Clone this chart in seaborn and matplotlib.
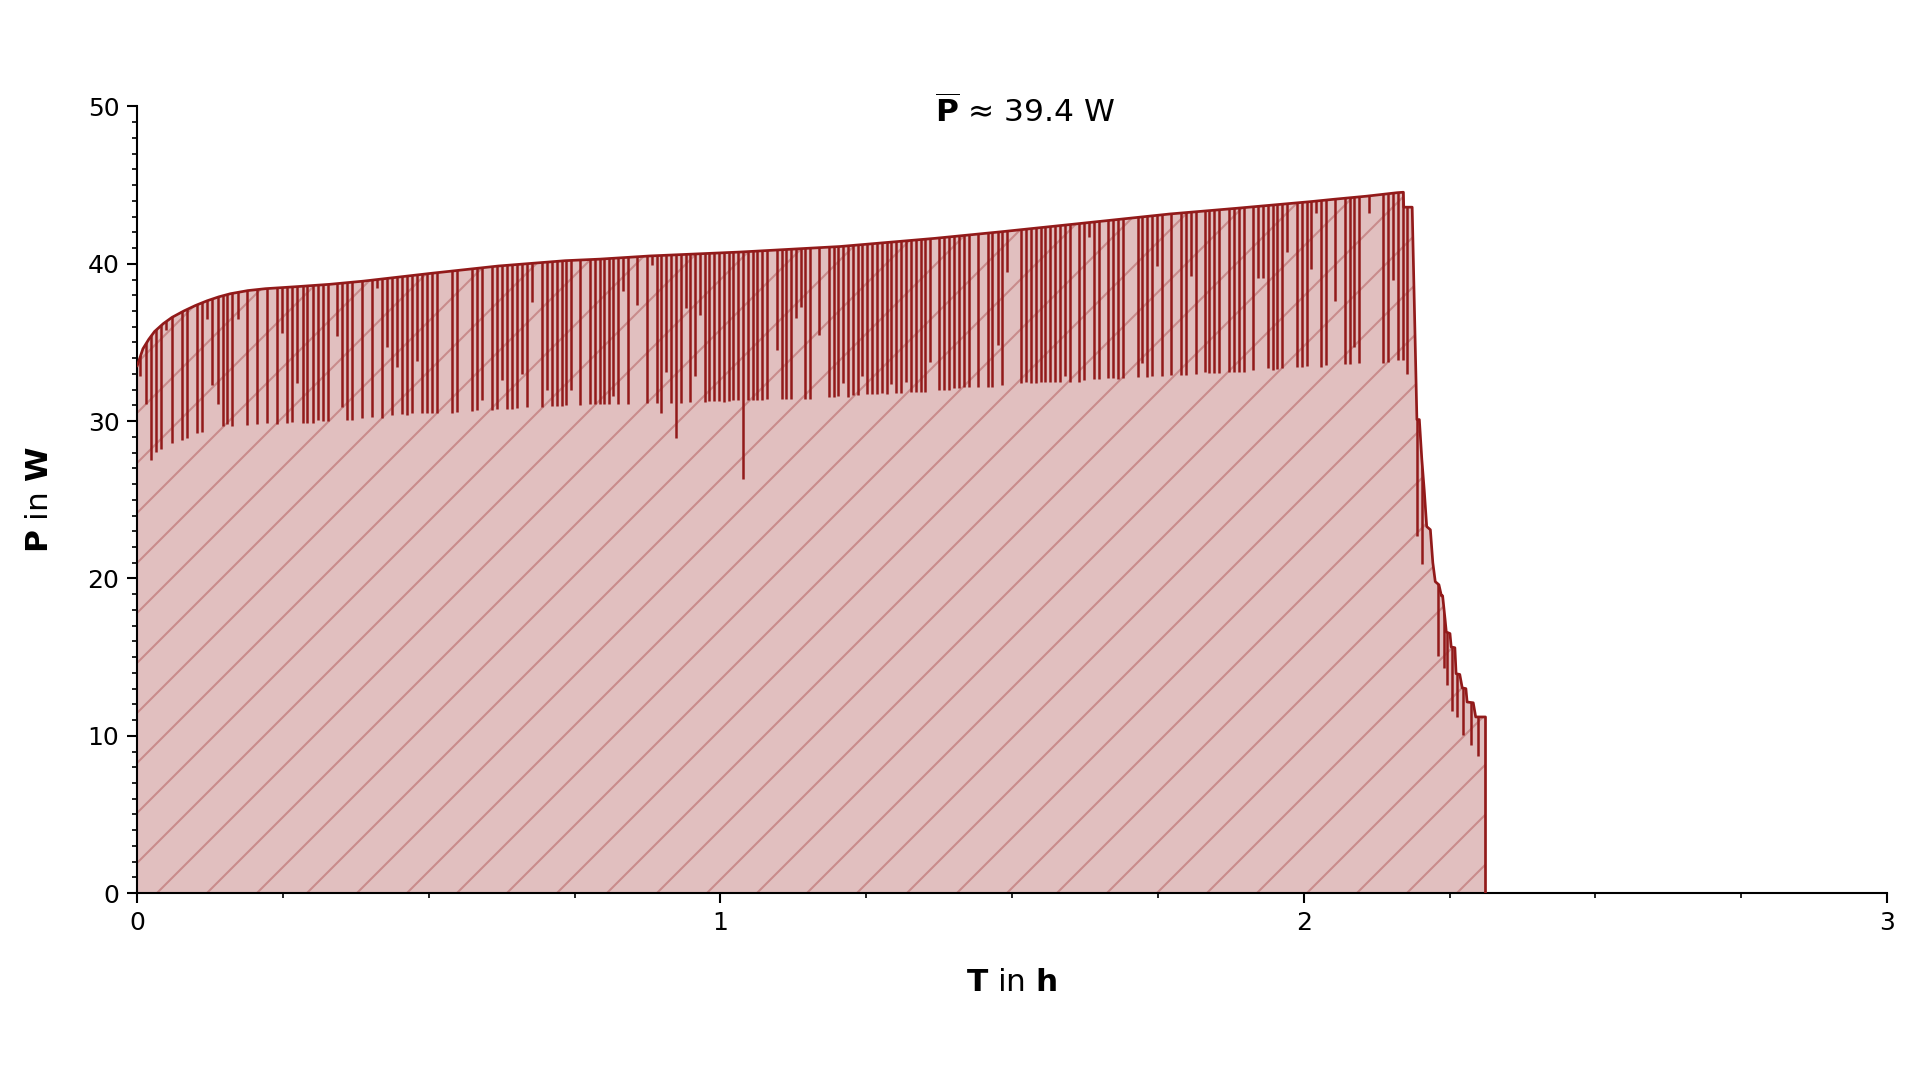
import numpy as np
import matplotlib
matplotlib.use("Agg")
import matplotlib.pyplot as plt
import seaborn as sns

# ---------------- data ----------------
# upper envelope of the power trace (time in h, power in W)
env_t = [0.0, 0.01, 0.02, 0.03, 0.045, 0.06, 0.08, 0.1, 0.12, 0.14,
         0.16, 0.19, 0.22, 0.274, 0.331, 0.388, 0.505, 0.619, 0.734, 0.794,
         0.879, 1.034, 1.205, 1.368, 1.482, 1.608, 1.771, 1.885, 2.011, 2.051,
         2.108, 2.16, 2.171, 2.1715, 2.186, 2.1941, 2.1983, 2.2025, 2.2067, 2.2109,
         2.2172, 2.2214, 2.2256, 2.2319, 2.2361, 2.2382, 2.2424, 2.2445, 2.2508, 2.2529,
         2.2592, 2.2613, 2.2676, 2.2718, 2.2781, 2.2802, 2.2907, 2.2949, 2.3117, 2.3117]
env_P = [33.5, 34.6, 35.2, 35.7, 36.2, 36.6, 37.0, 37.35, 37.65, 37.9,
         38.1, 38.3, 38.42, 38.55, 38.7, 38.9, 39.4, 39.86, 40.2, 40.3,
         40.5, 40.75, 41.1, 41.62, 42.04, 42.53, 43.17, 43.53, 43.95, 44.1,
         44.3, 44.52, 44.55, 43.6, 43.6, 30.1, 30.1, 27.6, 25.6, 23.3,
         23.1, 21.0, 19.8, 19.6, 18.9, 18.9, 17.4, 16.6, 16.5, 15.65,
         15.6, 13.95, 13.9, 13.05, 13.0, 12.15, 12.1, 11.2, 11.2, 0.0]

# downward spikes: time (h) and minimum power (W)
spike_t = [
    0.0051, 0.0154, 0.024, 0.032, 0.041, 0.0497, 0.0594, 0.0766, 0.0851, 0.1023,
    0.111, 0.1206, 0.1286, 0.138, 0.147, 0.155, 0.163, 0.1726, 0.189, 0.206,
    0.2234, 0.2406, 0.249, 0.2577, 0.266, 0.2749, 0.284, 0.292, 0.301, 0.3097,
    0.318, 0.3275, 0.3435, 0.352, 0.3606, 0.369, 0.386,
    0.4035, 0.412, 0.4206, 0.4291, 0.4377, 0.4463, 0.4549, 0.4634, 0.472, 0.4806,
    0.4891, 0.4977, 0.5063, 0.5149, 0.5406, 0.549, 0.5749, 0.5834, 0.592, 0.6091,
    0.6177, 0.6263, 0.6349, 0.6434, 0.652, 0.6606, 0.6691, 0.6777, 0.6937, 0.7023,
    0.711, 0.7195, 0.728, 0.735, 0.7435, 0.7595, 0.7766, 0.785, 0.7937,
    0.8006, 0.8092, 0.8166, 0.8252, 0.8326, 0.8412, 0.8578, 0.8738, 0.8824, 0.891,
    0.8983, 0.9069, 0.915, 0.9235, 0.932, 0.9406, 0.948, 0.9566, 0.965, 0.9738,
    0.9812, 0.9897, 0.9983, 1.0069, 1.0154, 1.0223, 1.0309, 1.0383, 1.047, 1.0555,
    1.0634, 1.072, 1.0795, 1.0967, 1.1052, 1.1126, 1.1206, 1.1292, 1.1378, 1.1452,
    1.1538, 1.1697, 1.1864, 1.1949, 1.2024,
    1.2098, 1.2184, 1.227, 1.2355, 1.2435, 1.252, 1.2606, 1.2692, 1.2778, 1.2852,
    1.2926, 1.3012, 1.3098, 1.3178, 1.3264, 1.335, 1.3435, 1.3509, 1.3595, 1.375,
    1.3835, 1.392, 1.4006, 1.4092, 1.4178, 1.4263, 1.4423, 1.4584, 1.4663, 1.4755,
    1.4823, 1.491, 1.5155, 1.5235, 1.5321, 1.5407, 1.5492, 1.5566, 1.5652, 1.5738,
    1.5824, 1.5909, 1.5995,
    1.615, 1.6235, 1.632, 1.6407, 1.6493, 1.6652, 1.6738, 1.6824, 1.691, 1.7155,
    1.7235, 1.732, 1.7395, 1.748, 1.7567, 1.7727, 1.7892, 1.7978, 1.8064, 1.815,
    1.831, 1.8384, 1.847, 1.8555, 1.872, 1.8807, 1.889, 1.8978, 1.9138, 1.9224,
    1.9298, 1.939, 1.947, 1.955, 1.9635, 1.972, 1.988, 1.9967, 2.0053,
    2.0126, 2.0206, 2.0298, 2.0383, 2.054, 2.071, 2.0796, 2.087, 2.0955, 2.112,
    2.1367, 2.1453, 2.1539, 2.1624, 2.17, 2.1778,
    2.1945, 2.2025, 2.2297, 2.2402, 2.2465, 2.255, 2.2633, 2.2738, 2.2864, 2.299]
spike_min = [
    32.9, 31.1, 27.5, 28.05, 28.26, 35.8, 28.6, 28.8, 28.96, 29.26,
    29.3, 36.5, 32.3, 31.1, 29.7, 29.8, 29.7, 36.5, 29.75, 29.85,
    29.9, 29.85, 35.6, 29.9, 29.95, 32.4, 29.9, 29.9, 29.9, 30.1,
    30.0, 30.0, 35.4, 30.9, 30.1, 30.1, 30.2,
    30.27, 38.44, 30.23, 34.7, 30.38, 33.45, 30.45, 30.38, 30.49, 33.8,
    30.53, 30.49, 30.53, 30.53, 30.53, 30.6, 30.64, 30.7, 31.33, 30.74,
    30.8, 32.6, 30.8, 30.8, 30.85, 33.0, 30.9, 37.6, 30.88, 31.97,
    30.95, 30.95, 30.95, 31.0, 31.97, 31.0, 31.1, 31.1, 31.1,
    31.08, 31.08, 31.59, 31.08, 38.3, 31.08, 37.4, 31.17, 39.9, 31.17,
    30.49, 33.1, 31.17, 28.96, 31.17, 37.17, 31.23, 32.86, 36.74, 31.23,
    31.27, 31.27, 31.27, 31.23, 31.27, 31.33, 31.33, 26.35, 31.33, 31.33,
    31.33, 31.33, 31.38, 34.5, 31.44, 31.44, 31.44, 36.53, 37.27, 31.44,
    31.44, 35.47, 31.55, 31.55, 31.6,
    32.4, 31.55, 31.65, 31.65, 32.86, 31.7, 31.72, 31.72, 31.76, 31.7,
    32.35, 31.76, 31.8, 32.5, 31.86, 31.86, 31.86, 31.86, 33.77, 31.97,
    32.0, 32.0, 32.08, 32.08, 32.14, 32.18, 32.14, 32.18, 32.18, 34.83,
    32.29, 39.5, 32.4, 32.5, 32.44, 32.44, 32.5, 32.5, 32.5, 32.5,
    32.5, 32.86, 32.5,
    32.5, 32.6, 41.7, 32.65, 32.65, 32.72, 32.72, 32.65, 32.72, 32.82,
    33.67, 32.82, 32.86, 39.86, 32.86, 32.93, 32.93, 32.93, 39.2, 32.97,
    33.14, 33.07, 33.07, 33.07, 33.14, 33.14, 33.14, 33.14, 33.24, 39.08,
    39.08, 33.35, 33.24, 33.29, 33.35, 40.77, 33.46, 33.46, 33.5,
    39.65, 43.25, 33.46, 33.56, 37.65, 33.63, 33.63, 34.73, 33.67, 43.2,
    33.7, 33.77, 38.97, 33.88, 33.88, 32.99,
    22.7, 20.95, 15.1, 14.3, 13.2, 11.6, 11.2, 10.05, 9.4, 8.7]

mean_label = r"$\overline{\mathbf{P}}$ ≈ 39.4 W"
x_ticks = [0, 1, 2, 3]
y_ticks = [0, 10, 20, 30, 40, 50]

# ---------------- plot ----------------
sns.set_style("ticks")
plt.rcParams["font.family"] = ["DejaVu Sans"]
plt.rcParams["hatch.linewidth"] = 1.0
for k in ("text.color", "axes.labelcolor", "xtick.color", "ytick.color",
          "axes.edgecolor"):
    plt.rcParams[k] = "black"

line_col = "#921a1a"
fig = plt.figure(figsize=(12.8, 7.2), dpi=150)
ax = fig.add_axes([0.0714, 0.173, 0.9114, 0.7284])

poly = ax.fill_between(env_t, env_P, 0, facecolor=(139/255, 0, 0, 0.25),
                       edgecolor="#c98b8b", linewidth=0, hatch="/", zorder=1)

lc = ax.vlines(spike_t, spike_min, 50, colors=line_col, linewidth=1.2, zorder=2)
lc.set_clip_path(poly.get_paths()[0], ax.transData)

sns.lineplot(x=env_t, y=env_P, ax=ax, color=line_col, linewidth=1.3,
             estimator=None, sort=False, zorder=3)

ax.set_xlim(0, 3)
ax.set_ylim(0, 50)
ax.set_xticks(x_ticks)
ax.set_yticks(y_ticks)
ax.set_xticks(np.arange(0, 3.001, 0.25), minor=True)
ax.set_yticks(np.arange(0, 50.001, 1), minor=True)
ax.tick_params(axis="both", which="major", labelsize=12, length=5, width=1, color="black")
ax.tick_params(axis="both", which="minor", length=2.5, width=0.8, color="black")
sns.despine(ax=ax)
for s in ("left", "bottom"):
    ax.spines[s].set_color("black")
    ax.spines[s].set_linewidth(1.0)

ax.set_xlabel(r"$\mathbf{T}$ in $\mathbf{h}$", fontsize=15, labelpad=16)
ax.set_ylabel(r"$\mathbf{P}$ in $\mathbf{W}$", fontsize=15, labelpad=16)
ax.text(0.5075, 0.994, mean_label, transform=ax.transAxes, ha="center",
        va="center", fontsize=15)

fig.savefig("out.png", dpi=150)
